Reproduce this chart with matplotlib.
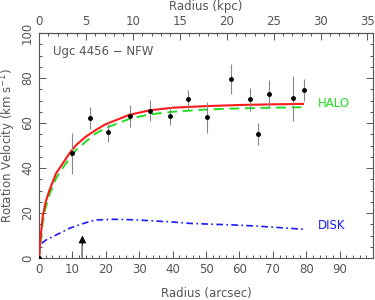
import matplotlib.pyplot as plt
import numpy as np

# observed rotation curve (arcsec, km/s)
r_obs = [0.0, 10.0, 15.2, 20.8, 27.2, 33.2, 39.2, 44.7, 50.3, 57.6, 63.1, 65.6, 68.8, 76.0, 79.3]
v_obs = [0.0, 46.5, 62.2, 56.0, 63.2, 65.5, 63.1, 70.5, 62.5, 79.7, 70.5, 55.1, 73.0, 71.0, 74.7]
v_err = [0.0, 9.0, 4.7, 4.6, 5.0, 4.8, 3.8, 4.2, 7.0, 6.7, 5.0, 5.0, 6.0, 10.0, 5.0]

# model curves
r_mod = [0.0, 0.4, 1.1, 2.0, 3.1, 5.1, 7.1, 9.1, 11.1, 14.0, 17.0, 20.0, 27.0, 33.0, 40.0, 50.0, 60.0, 70.0, 79.0]
v_tot = [0.0, 8.0, 18.4, 25.0, 30.0, 37.6, 42.0, 46.5, 50.2, 53.9, 56.9, 59.5, 63.6, 65.6, 66.8, 67.5, 68.0, 68.3, 68.5]
v_halo = [0.0, 6.0, 15.5, 22.5, 28.0, 35.4, 40.0, 44.3, 48.0, 51.7, 55.4, 57.8, 61.8, 63.8, 65.0, 66.0, 66.5, 66.8, 67.0]

r_disk = [0.0, 0.3, 0.8, 2.1, 5.1, 9.1, 14.0, 17.0, 22.0, 28.0, 33.0, 40.0, 45.0, 52.0, 58.0, 65.0, 72.0, 79.0]
v_disk = [0.0, 4.5, 6.5, 8.0, 10.2, 13.2, 15.7, 16.9, 17.2, 17.0, 16.6, 16.0, 15.4, 15.0, 14.7, 14.2, 13.5, 12.8]

kpc_per_arcsec = 0.356
r_arrow = 13.0

grey = '#555555'
plt.rcParams['font.family'] = 'DejaVu Sans'
plt.rcParams['font.size'] = 8.5

fig = plt.figure(figsize=(3.75, 3.0), dpi=100)
ax = fig.add_axes([0.104, 0.14, 0.891, 0.75])

ax.plot(r_mod, v_tot, color='#ff1a1a', lw=1.5, zorder=3)
ax.plot(r_mod, v_halo, color='#22dd22', lw=1.4, dashes=(5, 3), zorder=2)
ax.plot(r_disk, v_disk, color='#1a1aff', lw=1.2, dashes=(4, 2, 1, 2), zorder=2)
ax.errorbar(r_obs, v_obs, yerr=v_err, fmt='o', color='black', ms=2.5,
            ecolor='#888888', elinewidth=0.8, capsize=0, zorder=4)

# marker arrow: black head, grey shaft
ax.annotate('', xy=(r_arrow, 10.0), xytext=(r_arrow, 0),
            arrowprops=dict(arrowstyle='-|>', color='black', lw=0.8,
                            mutation_scale=11, shrinkA=0, shrinkB=0))
ax.plot([r_arrow, r_arrow], [0, 5.5], color='#999999', lw=1.2, zorder=5)

ax.text(4.2, 92, 'Ugc 4456 \u2212 NFW', color=grey, va='center', ha='left')
ax.text(83.4, 68.5, 'HALO', color='#22dd22', va='center', ha='left')
ax.text(83.4, 14.4, 'DISK', color='#1a1aff', va='center', ha='left')

ax.set_xlim(0, 100)
ax.set_ylim(0, 100)
ax.set_xticks(np.arange(0, 100, 10))
ax.set_xticks(np.arange(0, 101, 2), minor=True)
ax.set_yticks(np.arange(0, 101, 20))
ax.set_yticks(np.arange(0, 101, 5), minor=True)
ax.tick_params(which='both', direction='in', colors=grey, right=True, top=False)
ax.tick_params(which='major', length=5, width=0.7)
ax.tick_params(which='minor', length=2.5, width=0.7)
for lab in ax.get_yticklabels():
    lab.set_rotation(90)
    lab.set_va('center')
ax.set_xlabel('Radius (arcsec)', color=grey, labelpad=8)
ax.set_ylabel('Rotation Velocity (km s$^{-1}$)', color=grey, labelpad=2)
for s in ax.spines.values():
    s.set_color(grey)
    s.set_linewidth(0.8)

top = ax.secondary_xaxis('top', functions=(lambda r: r * kpc_per_arcsec,
                                           lambda k: k / kpc_per_arcsec))
top.set_xticks(np.arange(0, 36, 5))
top.set_xticks(np.arange(0, 36, 1), minor=True)
top.tick_params(which='both', direction='in', colors=grey)
top.tick_params(which='major', length=5, width=0.7)
top.tick_params(which='minor', length=2.5, width=0.7)
top.set_xlabel('Radius (kpc)', color=grey, labelpad=4)
top.spines['top'].set_color(grey)

fig.savefig('out.png', dpi=100)
